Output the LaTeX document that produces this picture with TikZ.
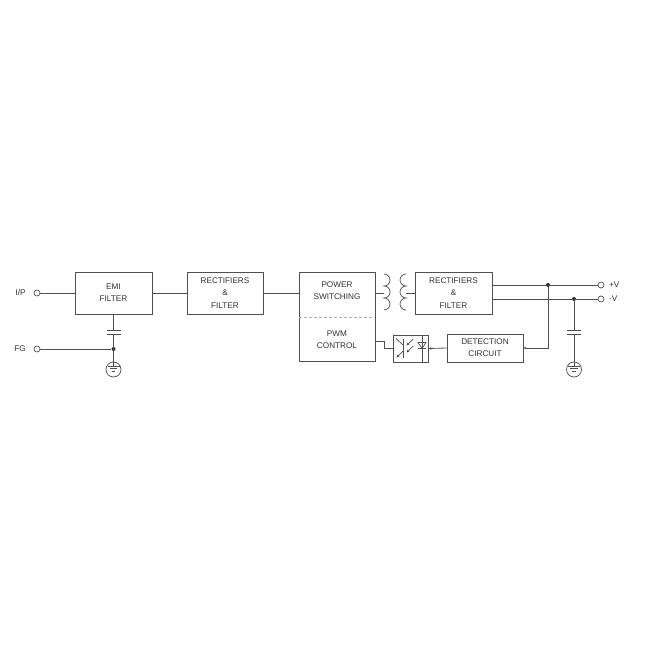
\documentclass[tikz,border=0pt]{standalone}
\usepackage{fontspec}
\setmainfont{Liberation Sans}
\usetikzlibrary{arrows.meta}
\definecolor{ln}{HTML}{505050}
\definecolor{tx}{HTML}{333333}
\begin{document}
\begin{tikzpicture}[x=1pt,y=-1pt,
  wire/.style={draw=ln, line width=0.8pt},
  thin/.style={draw=ln, line width=0.7pt},
  blk/.style={draw=ln, line width=0.8pt, inner sep=0pt, align=center, text=tx, font=\fontsize{8.2}{12.3}\selectfont},
  lbl/.style={inner sep=0pt, align=center, text=tx, font=\fontsize{8.2}{12.3}\selectfont},
  term/.style={circle, draw=ln, line width=0.7pt, fill=white, inner sep=0pt, minimum size=6pt},
  jdot/.style={circle, fill=black!85, inner sep=0pt, minimum size=4pt},
  tip/.style={-{Stealth[length=3pt,width=2.6pt]}},
  gndcap/.pic={
    \draw[thin] (-7,-2) -- (7,-2);
    \draw[thin] (-7,2) -- (7,2);
    \draw[wire] (0,2) -- (0,34);
    \draw[thin] (0,37.5) circle (7.5pt);
    \draw[thin] (-6,34) -- (6,34);
    \draw[thin] (-3.8,36.5) -- (3.8,36.5);
    \draw[thin] (-1.8,39) -- (1.8,39);
  }]
\useasboundingbox (0,0) rectangle (650,650);
\fill[white] (0,0) rectangle (650,650);

% blocks
\node[blk, minimum width=77pt, minimum height=42pt] (emi) at (113.5,293) {EMI\\FILTER};
\node[blk, minimum width=76pt, minimum height=42pt] (rect1) at (225,293) {RECTIFIERS\\\&\\FILTER};
\node[blk, minimum width=76pt, minimum height=89pt] (pwr) at (337,316.5) {};
\node[lbl] (pwt) at (337,291) {POWER\\SWITCHING};
\node[lbl] (pwmt) at (337,340) {PWM\\CONTROL};
\draw[ln!45, line width=0.7pt, dash pattern=on 3pt off 2pt] (pwr.west |- 0,317) -- (pwr.east |- 0,317);
\node[blk, minimum width=77pt, minimum height=42pt] (rect2) at (453.5,293) {RECTIFIERS\\\&\\FILTER};
\node[blk, minimum width=76pt, minimum height=28pt] (det) at (485,348) {DETECTION\\CIRCUIT};
\node[blk, minimum width=35pt, minimum height=27pt] (opto) at (410.5,348.5) {};

% terminals and labels
\node[term] (ipc) at (37,293) {};
\node[lbl] (ipt) at (20.5,293) {I/P};
\node[term] (fgc) at (37,349) {};
\node[lbl] (fgt) at (20,349) {FG};
\node[term] (pvc) at (601,285) {};
\node[lbl, anchor=west] (pvt) at (609,285) {+V};
\node[term] (mvc) at (601,299) {};
\node[lbl, anchor=west] (mvt) at (609,299) {-V};

% main chain
\draw[wire] (ipc) -- (emi.west);
\draw[wire] (emi.east) -- (rect1.west);
\draw[wire] (rect1.east) -- (rect1.east -| pwr.west);

% transformer
\coordinate (tl) at (384,274);
\coordinate (tr) at (406,274);
\draw[wire] (rect1.east -| pwr.east) -- (tl |- rect1.east);
\draw[thin] (tl) arc[start angle=90, end angle=-90, radius=6pt]
                 arc[start angle=90, end angle=-90, radius=6pt]
                 arc[start angle=90, end angle=-90, radius=6pt];
\draw[thin] (tr) arc[start angle=90, end angle=270, radius=6pt]
                 arc[start angle=90, end angle=270, radius=6pt]
                 arc[start angle=90, end angle=270, radius=6pt];
\draw[wire] (tr |- rect2.west) -- (rect2.west);

% outputs
\coordinate (r2p) at (492,285);
\coordinate (r2m) at (492,299);
\node[jdot] (jp) at (548,285) {};
\node[jdot] (jm) at (574,299) {};
\draw[wire] (r2p) -- (pvc);
\draw[wire] (r2m) -- (mvc);
\draw[wire] (jm) -- (574,330);
\pic at (574,332) {gndcap};

% feedback
\draw[wire, tip] (jp) |- (det.east);
\draw[wire, tip] (det.west) -- (opto.east);
\coordinate (pw) at (375,341);
\draw[wire] (pw) -- ++(9,0) |- (opto.west);

% optocoupler internals
\draw[thin] (403,339) -- (403,358);
\draw[thin] (403,345) -- (396,338.5);
\draw[thin, tip] (403,351) -- (396.5,357.5);
\draw[thin, tip] (413,339) -- (406.5,345.5);
\draw[thin, tip] (413,346) -- (406.5,352.5);
\draw[thin] (422,335) -- (422,362);
\draw[thin] (418,342.5) -- (426,342.5) -- (422,348.5) -- cycle;
\draw[thin] (418,348.5) -- (426,348.5);

% EMI ground path
\node[jdot] (jf) at (113.5,349) {};
\draw[wire] (fgc) -- (jf);
\draw[wire] (emi.south) -- (113.5,330);
\draw[wire] (113.5,334) -- (jf);
\pic at (113.5,332) {gndcap};
\end{tikzpicture}
\end{document}
